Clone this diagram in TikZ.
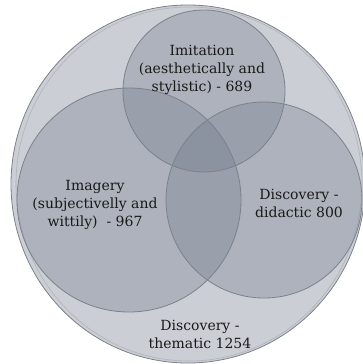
\documentclass[tikz,border=0pt]{standalone}
\usepackage{fontspec}
\setmainfont{DejaVu Serif}
\begin{document}
\begin{tikzpicture}[x=1pt,y=-1pt,
  ring/.style={draw=ringline, line width=0.8pt},
  setfill/.style={fill=setcol, fill opacity=0.32},
  lbl/.style={align=center, font=\fontsize{14}{18}\selectfont, text=black!90, inner sep=0pt}]
\definecolor{ringline}{HTML}{7C828B}
\definecolor{bigfill}{HTML}{CBCED4}
\definecolor{setcol}{HTML}{70788A}
\useasboundingbox (0,0) rectangle (363,364);
\fill[white] (0,0) rectangle (363,364);
% outer universe circle
\path[ring, fill=bigfill] (188,184) ellipse [x radius=177, y radius=179];
\draw[ringline!60, line width=0.6pt] (189,184) ellipse [x radius=173, y radius=177];
% sets
\path[setfill] (204,91) circle [radius=81];
\path[setfill] (129,200) circle [radius=112];
\path[setfill] (264,200) circle [radius=98];
\draw[ring] (204,91) circle [radius=81];
\draw[ring] (129,200) circle [radius=112];
\draw[ring] (264,200) circle [radius=98];
% labels
\node[lbl] (imit) at (202,70) {Imitation\\(aesthetically and\\stylistic) - 689};
\node[lbl] (imag) at (95,205) {Imagery\\(subjectivelly and\\wittily)\ \ - 967};
\node[lbl] (did) at (299,203) {Discovery -\\didactic 800};
\node[lbl] (them) at (200,334) {Discovery -\\thematic 1254};
\end{tikzpicture}
\end{document}
